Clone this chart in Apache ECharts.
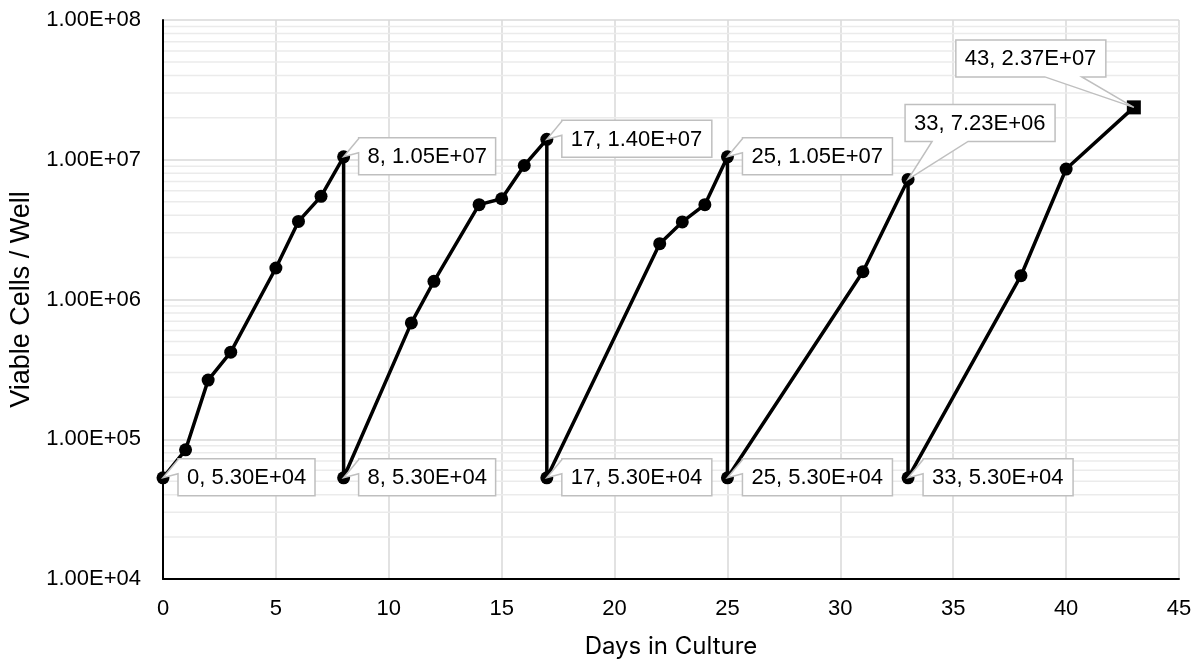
<!DOCTYPE html>
<html>
<head>
<meta charset="utf-8">
<script src="https://cdn.jsdelivr.net/npm/echarts@6/dist/echarts.min.js"></script>
<style>
  html, body { margin: 0; padding: 0; background: #fff; }
  #chart { width: 1198px; height: 664px; }
</style>
</head>
<body>
<div id="chart"></div>
<script>
// Days in culture and viable cells per well, one row per measurement.
// Repeated days are the passage points where the culture is re-seeded.
const days = [0, 1, 2, 3, 5, 6, 7, 8, 8, 11, 12, 14, 15, 16, 17, 17, 22, 23, 24, 25, 25, 31, 33, 33, 38, 40, 43];
const cells = [5.30e4, 8.4e4, 2.65e5, 4.2e5, 1.68e6, 3.62e6, 5.47e6, 1.05e7, 5.30e4,
               6.8e5, 1.35e6, 4.77e6, 5.26e6, 9.1e6, 1.40e7, 5.30e4,
               2.51e6, 3.59e6, 4.77e6, 1.05e7, 5.30e4,
               1.58e6, 7.23e6, 5.30e4,
               1.48e6, 8.58e6, 2.37e7];

// Points that carry a value callout (indices into days / cells)
const calloutIndex = [0, 7, 8, 14, 15, 19, 20, 22, 23, 26];

// Axis ticks
const xTicks = [0, 5, 10, 15, 20, 25, 30, 35, 40, 45];
const yTicks = [1e4, 1e5, 1e6, 1e7, 1e8];

const FONT = '"Liberation Sans", Arial, sans-serif';
const LABEL_SIZE = 22;

function sci(v) {
  const parts = v.toExponential(2).split('e');
  const n = parseInt(parts[1], 10);
  return parts[0] + 'E' + (n < 0 ? '-' : '+') + String(Math.abs(n)).padStart(2, '0');
}

// log-axis minor gridlines: 2..9 within each decade
const minorGrid = [];
for (let d = 0; d < yTicks.length - 1; d++) {
  for (let m = 2; m <= 9; m++) minorGrid.push(m * yTicks[d]);
}

const measureCtx = document.createElement('canvas').getContext('2d');
measureCtx.font = LABEL_SIZE + 'px ' + FONT;
function textWidth(t) { return measureCtx.measureText(t).width; }

// Callout box placement relative to the point (pixels)
function calloutLayout(dataIdx) {
  if (dataIdx === calloutIndex[7]) {         // box above, wedge from bottom edge
    return { type: 'bottom', dx: -3, dy: -75, a: 27, b: 63 };
  }
  if (dataIdx === calloutIndex[9]) {         // box above-left, wedge from bottom edge
    return { type: 'bottom', dx: -178, dy: -67.5, a: 89, b: 126 };
  }
  return { type: 'left', dx: 15, dy: -19 };  // box to the right, wedge from left edge
}

const seriesData = days.map((d, i) => {
  const item = { value: [d, cells[i]] };
  if (i === days.length - 1) { item.symbol = 'rect'; item.symbolSize = 14; }
  return item;
});

const chart = echarts.init(document.getElementById('chart'), null, { renderer: 'canvas' });

chart.setOption({
  animation: false,
  backgroundColor: '#ffffff',
  grid: { left: 163, right: 19, top: 20, bottom: 84 },
  xAxis: {
    type: 'value',
    min: xTicks[0],
    max: xTicks[xTicks.length - 1],
    interval: xTicks[1] - xTicks[0],
    name: 'Days in Culture',
    nameLocation: 'middle',
    nameGap: 56,
    nameTextStyle: { fontFamily: 'Inter, "Noto Sans", sans-serif', fontSize: 24, color: '#000' },
    axisLine: { show: true, onZero: false, lineStyle: { color: '#000', width: 2 } },
    axisTick: { show: false },
    axisLabel: { fontFamily: FONT, fontSize: LABEL_SIZE, color: '#000', margin: 19 },
    splitLine: { show: true, lineStyle: { color: '#d9d9d9', width: 1.5 } }
  },
  yAxis: {
    type: 'log',
    logBase: 10,
    min: yTicks[0],
    max: yTicks[yTicks.length - 1],
    name: 'Viable Cells / Well',
    nameLocation: 'middle',
    nameRotate: 90,
    nameGap: 128,
    nameTextStyle: { fontFamily: FONT, fontSize: 27, color: '#000' },
    axisLine: { show: true, lineStyle: { color: '#000', width: 2 } },
    axisTick: { show: false },
    axisLabel: { fontFamily: FONT, fontSize: LABEL_SIZE, color: '#000', margin: 22, formatter: v => sci(v) },
    splitLine: { show: true, lineStyle: { color: '#d9d9d9', width: 1.5 } },
    minorTick: { show: false },
    minorSplitLine: { show: false }
  },
  series: [
    {
      // minor horizontal gridlines
      type: 'custom',
      z: 1,
      silent: true,
      data: minorGrid,
      encode: { y: 0 },
      renderItem: function (params, api) {
        const cs = params.coordSys;
        const y = api.coord([xTicks[0], api.value(0)])[1];
        return {
          type: 'line',
          shape: { x1: cs.x + 1, y1: y, x2: cs.x + cs.width, y2: y },
          style: { stroke: '#ebebeb', lineWidth: 1.5 }
        };
      }
    },
    {
      type: 'line',
      z: 5,
      data: seriesData,
      symbol: 'circle',
      symbolSize: 13,
      showAllSymbol: true,
      lineStyle: { color: '#000', width: 3.5 },
      itemStyle: { color: '#000', borderWidth: 0 },
      label: { show: false }
    },
    {
      // value callouts
      type: 'custom',
      z: 10,
      silent: true,
      clip: false,
      data: calloutIndex.map(i => [days[i], cells[i], i]),
      encode: { x: 0, y: 1 },
      renderItem: function (params, api) {
        const i = api.value(2);
        const p = api.coord([api.value(0), api.value(1)]);
        const txt = days[i] + ', ' + sci(cells[i]);
        const w = Math.round(textWidth(txt) + 18);
        const h = 37;
        const L = calloutLayout(i);
        const bx = p[0] + L.dx, by = p[1] + L.dy;
        let pts;
        if (L.type === 'left') {
          pts = [[bx, by], [bx + w, by], [bx + w, by + h], [bx, by + h],
                 [bx, by + 15], [p[0], p[1]], [bx, by + 1]];
        } else {
          pts = [[bx, by], [bx + w, by], [bx + w, by + h], [bx + L.b, by + h],
                 [p[0], p[1]], [bx + L.a, by + h], [bx, by + h]];
        }
        return {
          type: 'group',
          children: [
            {
              type: 'polygon',
              shape: { points: pts },
              style: { fill: '#ffffff', stroke: '#bfbfbf', lineWidth: 1.5 }
            },
            {
              type: 'text',
              style: {
                x: bx + 9, y: by + h / 2 + 1,
                text: txt,
                verticalAlign: 'middle',
                font: LABEL_SIZE + 'px ' + FONT,
                fill: '#000'
              }
            }
          ]
        };
      }
    }
  ]
});
</script>
</body>
</html>
